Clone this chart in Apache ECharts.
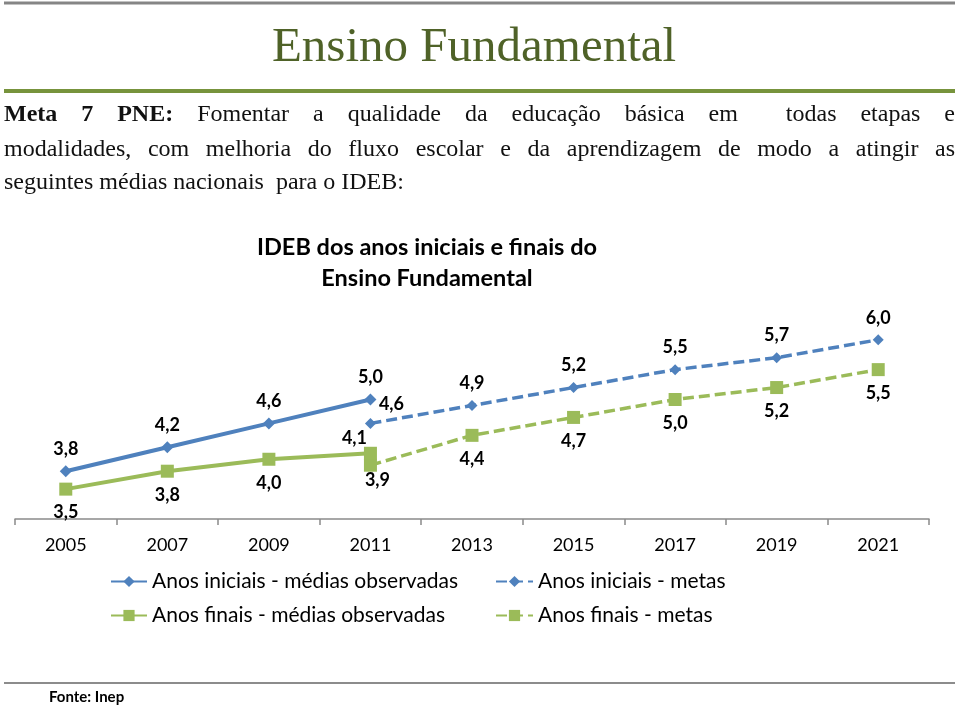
<!DOCTYPE html>
<html>
<head>
<meta charset="utf-8">
<script src="https://cdn.jsdelivr.net/npm/echarts@6/dist/echarts.min.js"></script>
<style>
html,body{margin:0;padding:0;background:#fff;}
#chart{width:960px;height:708px;}
</style>
</head>
<body>
<div id="chart"></div>
<script>
// ---- data ----
const years = ['2005', '2007', '2009', '2011', '2013', '2015', '2017', '2019', '2021'];
const iniciaisObservadas = [3.8, 4.2, 4.6, 5.0, '-', '-', '-', '-', '-'];
const iniciaisMetas = ['-', '-', '-', 4.6, 4.9, 5.2, 5.5, 5.7, 6.0];
const finaisObservadas = [3.5, 3.8, 4.0, 4.1, '-', '-', '-', '-', '-'];
const finaisMetas = ['-', '-', '-', 3.9, 4.4, 4.7, 5.0, 5.2, 5.5];
const seriesNames = [
  'Anos iniciais - médias observadas',
  'Anos iniciais - metas',
  'Anos finais - médias observadas',
  'Anos finais - metas'
];
const pageTitle = 'Ensino Fundamental';
const chartTitle = 'IDEB dos anos iniciais e finais do\nEnsino Fundamental';
const paraBold = 'Meta 7 PNE:';
const paraLine1 = 'Fomentar a qualidade da educação básica em  todas etapas e';
const paraLine2 = 'modalidades, com melhoria do fluxo escolar e da aprendizagem de modo a atingir as';
const paraLine3 = 'seguintes médias nacionais  para o IDEB:';
const sourceText = 'Fonte: Inep';

// ---- label placement (offsets from the marker) ----
const offIniObs = [[0, -22], [0, -22], [0, -22], [0, -22], null, null, null, null, null];
const offIniMeta = [null, null, null, [21, -19], [0, -22], [0, -22], [0, -22], [0, -22], [0, -22]];
const offFinObs = [[0, 23], [0, 24], [0, 24], [-16, -15], null, null, null, null, null];
const offFinMeta = [null, null, null, [7, 15], [0, 24], [0, 24], [0, 24], [0, 24], [0, 24]];

const BLUE = '#4f81bd';
const GREEN = '#9bbb59';
const SANS = 'Lato';
const SERIF = '"Liberation Serif"';

function buildData(values, offsets) {
  return values.map((v, i) => {
    if (v === '-') return '-';
    return { value: v, label: { offset: offsets[i] } };
  });
}

// ---- justified paragraph ----
const ctx = document.createElement('canvas').getContext('2d');
const PFS = 24;
function fontStr(bold) { return (bold ? 'bold ' : '') + PFS + 'px ' + SERIF; }
function measure(t, bold) { ctx.font = fontStr(bold); return ctx.measureText(t).width; }
function tokenize(text, bold) {
  const parts = text.split(' ');
  const out = [];
  let pendingGap = 0;
  parts.forEach(p => {
    if (p === '') { pendingGap++; return; }
    out.push({ text: p, bold: bold, gap: pendingGap });
    pendingGap = 1;
  });
  return out;
}
function layoutLine(tokens, x0, x1, y, justify) {
  tokens.forEach((t, i) => { if (i === 0) t.gap = 0; });
  const W = tokens.reduce((s, t) => s + measure(t.text, t.bold), 0);
  const G = tokens.reduce((s, t) => s + t.gap, 0);
  const sp = justify ? (x1 - x0 - W) / G : measure(' ', false);
  let x = x0;
  const els = [];
  tokens.forEach(t => {
    x += t.gap * sp;
    els.push({
      type: 'text', x: x, y: y,
      style: {
        text: t.text, fontSize: PFS, fontFamily: SERIF,
        fontWeight: t.bold ? 'bold' : 'normal', fill: '#111',
        align: 'left', verticalAlign: 'middle'
      }
    });
    x += measure(t.text, t.bold);
  });
  return els;
}
let line1Tokens = tokenize(paraBold, true);
const l1b = tokenize(paraLine1, false);
l1b[0].gap = 1;
line1Tokens = line1Tokens.concat(l1b);
const paraEls = []
  .concat(layoutLine(line1Tokens, 4, 955, 115, true))
  .concat(layoutLine(tokenize(paraLine2, false), 4, 955, 150, true))
  .concat(layoutLine(tokenize(paraLine3, false), 4, 955, 183, false));

const labelStyle = {
  show: true, position: 'inside', color: '#000', fontFamily: SANS,
  fontWeight: 'bold', fontSize: 18,
  formatter: p => Number(p.value).toFixed(1).replace('.', ',')
};

const chart = echarts.init(document.getElementById('chart'), null, { renderer: 'canvas' });
chart.setOption({
  backgroundColor: '#fff',
  animation: false,
  title: {
    text: chartTitle,
    left: 422, top: 227, textAlign: 'center',
    textStyle: { fontFamily: SANS, fontWeight: 'bold', fontSize: 23.5, lineHeight: 31, color: '#000' }
  },
  legend: [
    {
      data: [seriesNames[0], seriesNames[2]],
      orient: 'vertical', left: 105, top: 566, itemGap: 13,
      itemWidth: 36, itemHeight: 14,
      textStyle: { fontFamily: SANS, fontSize: 21, color: '#000' }
    },
    {
      data: [seriesNames[1], seriesNames[3]],
      orient: 'vertical', left: 490, top: 566, itemGap: 13,
      itemWidth: 37, itemHeight: 14,
      textStyle: { fontFamily: SANS, fontSize: 21, color: '#000' }
    }
  ],
  grid: { left: 15, right: 31, top: 280, bottom: 189, containLabel: false },
  xAxis: {
    type: 'category', data: years, boundaryGap: true,
    axisLine: { lineStyle: { color: '#8a8a8a', width: 1.5 } },
    axisTick: { show: true, length: 6, lineStyle: { color: '#8a8a8a', width: 1.5 } },
    axisLabel: { fontFamily: SANS, fontSize: 18, color: '#000', margin: 17 }
  },
  yAxis: { type: 'value', min: 3, max: 7, show: false, splitLine: { show: false } },
  series: [
    {
      name: seriesNames[0], type: 'line', data: buildData(iniciaisObservadas, offIniObs),
      symbol: 'diamond', symbolSize: 12,
      lineStyle: { color: BLUE, width: 4 }, itemStyle: { color: BLUE },
      label: labelStyle, z: 3
    },
    {
      name: seriesNames[1], type: 'line', data: buildData(iniciaisMetas, offIniMeta),
      symbol: 'diamond', symbolSize: 11,
      lineStyle: { color: BLUE, width: 3.5, type: [11, 5] }, itemStyle: { color: BLUE },
      label: labelStyle, z: 2
    },
    {
      name: seriesNames[2], type: 'line', data: buildData(finaisObservadas, offFinObs),
      symbol: 'rect', symbolSize: 13,
      lineStyle: { color: GREEN, width: 4 }, itemStyle: { color: GREEN },
      label: labelStyle, z: 3
    },
    {
      name: seriesNames[3], type: 'line', data: buildData(finaisMetas, offFinMeta),
      symbol: 'rect', symbolSize: 13,
      lineStyle: { color: GREEN, width: 3.5, type: [11, 5] }, itemStyle: { color: GREEN },
      label: labelStyle, z: 2
    }
  ],
  graphic: [
    { type: 'line', shape: { x1: 4, y1: 3, x2: 955, y2: 3 }, style: { stroke: '#858585', lineWidth: 3 } },
    { type: 'line', shape: { x1: 4, y1: 91, x2: 955, y2: 91 }, style: { stroke: '#77933c', lineWidth: 4 } },
    { type: 'line', shape: { x1: 4, y1: 683, x2: 955, y2: 683 }, style: { stroke: '#8c8c8c', lineWidth: 2 } },
    {
      type: 'text', x: 474, y: 48,
      style: {
        text: pageTitle, fontSize: 49, fontFamily: SERIF, fill: '#4f6228',
        align: 'center', verticalAlign: 'middle'
      }
    },
    {
      type: 'text', x: 49, y: 697,
      style: {
        text: sourceText, fontSize: 15, fontFamily: SANS, fontWeight: 'bold', fill: '#000',
        align: 'left', verticalAlign: 'middle'
      }
    }
  ].concat(paraEls)
});
</script>
</body>
</html>
